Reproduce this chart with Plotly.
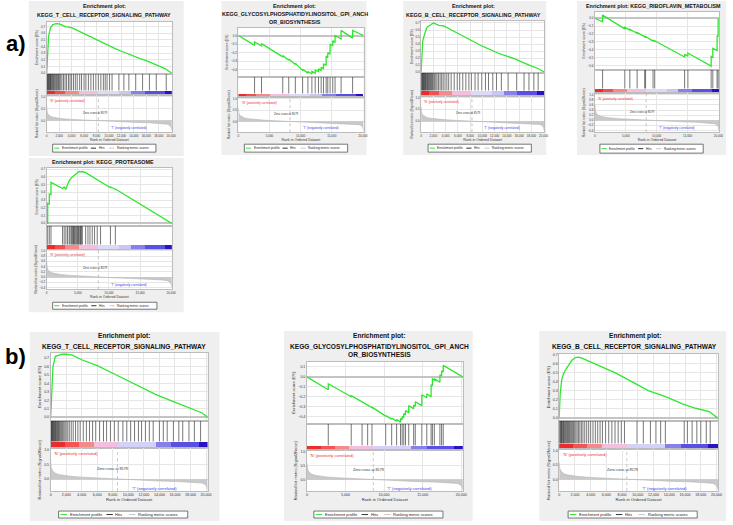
import plotly.graph_objects as go

W, H = 733, 525
FONT = "Liberation Sans"

# ---------------- data ----------------
N_A = 20100
N_B = 20200
ZERO_CROSS_A = 8300
ZERO_CROSS_B = 8600
ZERO_TEXT = "Zero cross at 8579"

# ranked list metric (shared per dataset)
metric_rank_a = [0, 80, 250, 600, 1000, 1600, 2500, 4000, 6000, 8300, 11000, 14000, 16500, 18500, 19400, 19800, 20000, 20100]
metric_val_a = [0.62, 0.36, 0.26, 0.19, 0.15, 0.12, 0.09, 0.06, 0.03, 0.0, -0.03, -0.06, -0.08, -0.11, -0.14, -0.19, -0.27, -0.4]
metric_rank_b = [0, 80, 250, 600, 1000, 1600, 2500, 4000, 6000, 8600, 11000, 14000, 16500, 18500, 19500, 19900, 20100, 20200]
metric_val_b = [0.6, 0.38, 0.28, 0.2, 0.16, 0.13, 0.1, 0.07, 0.04, 0.0, -0.03, -0.06, -0.08, -0.1, -0.13, -0.18, -0.25, -0.35]

# colour strip segments
strip_edges_a = [0, 1300, 2900, 5100, 8200, 11600, 13500, 15700, 18900, 20100]
strip_colors_a = ["#ee2b2b", "#f25050", "#f48a8a", "#f4bede", "#dcdaf6", "#c9c6f3", "#8680ec", "#5a4fe3", "#2a12c4"]
strip_edges_b = [0, 1800, 3600, 5500, 8600, 13500, 15500, 19000, 20200]
strip_colors_b = ["#ee2b2b", "#f25555", "#f48a8a", "#f4bede", "#d3d1f5", "#8680ec", "#5a4fe3", "#2a12c4"]

# T cell receptor signaling (a)
tcell_a_es_x = [0, 100, 300, 600, 1000, 1500, 2000, 2500, 3000, 4000, 5000, 6000, 7000, 8000, 9000, 10000,
                11000, 12000, 13000, 14000, 15000, 16000, 17000, 18000, 19000, 20100]
tcell_a_es_y = [0, 0.3, 0.55, 0.68, 0.73, 0.745, 0.74, 0.72, 0.70, 0.685, 0.64, 0.59, 0.54, 0.495, 0.45, 0.41,
                0.37, 0.33, 0.29, 0.255, 0.22, 0.19, 0.15, 0.11, 0.07, 0.0]
tcell_a_hits = [60, 150, 240, 330, 420, 520, 610, 700, 820, 950, 1080, 1200, 1330, 1470, 1600, 1760, 1900, 2050,
                2250, 2450, 2700, 2950, 3200, 3500, 3750, 4000, 4300, 4600, 4900, 5300, 5600, 6000, 6300, 6700,
                7100, 7500, 7900, 8300, 8700, 9100, 9400, 9700, 10100, 10500, 11600, 12400, 13200, 14300, 15400,
                16500, 17600, 19200]

# GPI anchor biosynthesis (a)
gpi_a_es_x = [0, 2600, 2600, 3720, 3720, 7130, 7130, 8090, 8090, 9150, 9150, 10320, 10320, 11170, 11170, 11810,
              11810, 12340, 12340, 12870, 12870, 13300, 13300, 13670, 13670, 14100, 14100, 14360, 14360, 14730,
              14730, 15160, 15160, 15530, 15530, 16500, 16500, 18350, 18350, 20100]
gpi_a_es_y = [0, -0.115, -0.075, -0.12, -0.095, -0.25, -0.235, -0.29, -0.275, -0.34, -0.325, -0.41, -0.395, -0.44,
              -0.42, -0.45, -0.42, -0.44, -0.405, -0.42, -0.39, -0.41, -0.37, -0.39, -0.33, -0.35, -0.24, -0.26,
              -0.2, -0.22, -0.1, -0.12, -0.06, -0.08, 0.0, -0.04, 0.06, -0.03, 0.06, 0.0]
gpi_a_hits = [2600, 3720, 7130, 8090, 9150, 10320, 11170, 11810, 12340, 12870, 13300, 13670, 14100, 14360, 14730,
              15160, 15530, 16500, 18350]

# B cell receptor signaling (a)
bcell_a_es_x = [0, 260, 530, 950, 1580, 2000, 2900, 3700, 5500, 7400, 10000, 12600, 15300, 17900, 19000, 20100]
bcell_a_es_y = [0, 0.44, 0.53, 0.64, 0.675, 0.70, 0.667, 0.66, 0.575, 0.486, 0.37, 0.27, 0.19, 0.09, 0.057, 0.0]
bcell_a_hits = [80, 160, 250, 340, 430, 520, 620, 720, 830, 950, 1060, 1180, 1300, 1420, 1550, 1700, 1850, 2000,
                2200, 2400, 2600, 2850, 3100, 3350, 3600, 3900, 4200, 4500, 4900, 5400, 5900, 6300, 6800, 7300,
                7800, 8200, 8800, 9300, 9900, 10500, 11000, 11700, 12300, 13100, 14200, 15600, 16800, 17600,
                18400, 19100]

# Riboflavin metabolism (a)
ribo_es_x = [0, 1240, 1240, 4840, 4840, 5650, 5650, 6830, 6830, 8060, 8060, 9410, 9410, 9680, 9680, 14520, 14520,
             15050, 15050, 18820, 18820, 19090, 19090, 19780, 19780, 19950, 19950]
ribo_es_y = [0, -0.045, 0.04, -0.135, -0.115, -0.15, -0.14, -0.19, -0.18, -0.235, -0.225, -0.29, -0.28, -0.29,
             -0.285, -0.49, -0.455, -0.48, -0.44, -0.605, -0.48, -0.49, -0.38, -0.41, -0.22, -0.23, 0.0]
ribo_hits = [1240, 4840, 5650, 6830, 8060, 8200, 9410, 9680, 14520, 15050, 18820, 19090, 19780, 19950]

# Proteasome (a)
prot_es_x = [0, 160, 160, 420, 420, 690, 690, 2550, 2810, 3080, 3340, 3610, 3980, 4300, 4670, 4930, 5200, 5460,
             5730, 6260, 6950, 7690, 8650, 10240, 10240, 11030, 11030, 20100]
prot_es_y = [0, 0.0, 0.26, 0.25, 0.38, 0.37, 0.53, 0.45, 0.47, 0.44, 0.50, 0.55, 0.59, 0.61, 0.64, 0.65, 0.67,
             0.665, 0.67, 0.655, 0.62, 0.58, 0.53, 0.46, 0.47, 0.44, 0.445, 0.0]
prot_hits = [160, 420, 690, 2550, 2810, 3080, 3340, 3610, 3770, 3980, 4140, 4300, 4400, 4510, 4670, 4830, 4930,
             5090, 5200, 5360, 5460, 5570, 5730, 6260, 6630, 6950, 7320, 7690, 8120, 8650, 10240, 11030]

# T cell receptor signaling (b)
tcell_b_es_x = [0, 150, 300, 600, 1000, 1500, 2000, 2800, 4000, 6000, 8000, 10000, 12000, 13500, 15000, 16500,
                18000, 19500, 20200]
tcell_b_es_y = [0, 0.3, 0.6, 0.72, 0.735, 0.745, 0.745, 0.735, 0.68, 0.61, 0.52, 0.43, 0.33, 0.27, 0.215, 0.16,
                0.11, 0.05, 0.0]
tcell_b_hits = [40, 110, 180, 250, 320, 390, 470, 550, 630, 720, 810, 900, 1000, 1100, 1200, 1320, 1440, 1560,
                1700, 1850, 2000, 2200, 2400, 2650, 2900, 3200, 3500, 3800, 4200, 4600, 5000, 5400, 5800, 6300,
                6800, 7200, 7700, 8200, 8700, 9300, 9800, 10300, 10800, 11300, 11700, 12200, 12700, 13200,
                14000, 14500, 15000, 15800, 16500, 17000, 17800, 18500, 19300]

# GPI anchor biosynthesis (b)
gpi_b_es_x = [0, 2770, 2770, 5740, 5740, 7150, 7150, 7870, 7870, 8430, 8430, 10210, 10210, 10980, 10980, 11620,
              11620, 12130, 12130, 12340, 12340, 12550, 12550, 12770, 12770, 13190, 13190, 13830, 13830, 14040,
              14040, 14890, 14890, 15530, 15530, 16090, 16090, 16260, 16260, 16510, 16510, 17230, 17230, 17450,
              17450, 17660, 17660, 20200]
gpi_b_es_y = [0, -0.13, -0.07, -0.2, -0.19, -0.255, -0.25, -0.285, -0.28, -0.31, -0.305, -0.395, -0.39, -0.425,
              -0.415, -0.445, -0.43, -0.455, -0.42, -0.43, -0.4, -0.41, -0.37, -0.38, -0.34, -0.36, -0.29, -0.32,
              -0.285, -0.295, -0.25, -0.29, -0.18, -0.21, -0.17, -0.2, -0.08, -0.09, -0.02, -0.03, -0.02, -0.055,
              0.02, 0.01, 0.06, 0.05, 0.115, 0.0]
gpi_b_hits = [2770, 5740, 7150, 7870, 8430, 10210, 10980, 11620, 12130, 12340, 12550, 12770, 13190, 13830, 14040,
              14890, 15530, 16090, 16260, 16510, 17230, 17450, 17660]

# B cell receptor signaling (b)
bcell_b_es_x = [0, 130, 340, 550, 850, 1280, 1620, 2040, 2470, 2890, 5020, 7150, 9280, 11400, 13530, 15660, 17360,
                19060, 20130]
bcell_b_es_y = [0, 0.27, 0.43, 0.49, 0.54, 0.6, 0.64, 0.67, 0.675, 0.663, 0.58, 0.5, 0.4, 0.3, 0.237, 0.155,
                0.107, 0.07, 0.0]
bcell_b_hits = [60, 140, 220, 300, 380, 470, 560, 650, 750, 850, 960, 1070, 1180, 1300, 1420, 1550, 1680, 1820,
                1970, 2120, 2280, 2450, 2630, 2820, 3020, 3250, 3500, 3750, 4000, 4300, 4600, 4900, 5200, 5500,
                5900, 6300, 6700, 7100, 7500, 7900, 8300, 9900, 10700, 11600, 12300, 12900, 13500, 15900, 16300,
                16900, 17500, 18000, 18700, 19200]

# ---------------- panels ----------------
# geometry in pixels: bg box, plot left/right, es top, hits top, strip top, ranked top, ranked bottom
panels = [
    dict(title=["Enrichment plot:", "KEGG_T_CELL_RECEPTOR_SIGNALING_PATHWAY"], title_y=[5, 14], cx=104,
         es=(tcell_a_es_x, tcell_a_es_y), hits=tcell_a_hits, es_range=[-0.005, 0.77], grp="a", dtick=2000,
         rdtick=0.5, bg=(28, 0, 184, 156), px=(46, 172), py=(21, 73, 90, 95, 132), leg=(52, 156, 144, 152)),
    dict(title=["Enrichment plot:", "KEGG_GLYCOSYLPHOSPHATIDYLINOSITOL_GPI_ANCH", "OR_BIOSYNTHESIS"],
         title_y=[5, 13.5, 21], cx=296, es=(gpi_a_es_x, gpi_a_es_y), hits=gpi_a_hits, es_range=[-0.48, 0.09],
         grp="a", dtick=5000, rdtick=0.5, bg=(222, 0, 368, 155), px=(239, 365), py=(27, 76, 93, 97, 132),
         leg=(245, 349, 144, 152)),
    dict(title=["Enrichment plot:", "KEGG_B_CELL_RECEPTOR_SIGNALING_PATHWAY"], title_y=[5, 14], cx=476,
         es=(bcell_a_es_x, bcell_a_es_y), hits=bcell_a_hits, es_range=[-0.005, 0.73], grp="a", dtick=2000,
         rdtick=0.5, bg=(405, 0, 549, 155), px=(423, 547), py=(20, 72, 90, 96, 132), leg=(430, 534, 144, 152)),
    dict(title=["Enrichment plot: KEGG_RIBOFLAVIN_METABOLISM"], title_y=[5], cx=657,
         es=(ribo_es_x, ribo_es_y), hits=ribo_hits, es_range=[-0.65, 0.08], grp="a", dtick=5000,
         rdtick=0.2, bg=(580, 0, 730, 155), px=(598, 723), py=(11, 69, 88, 93, 132), leg=(603, 707, 144, 153)),
    dict(title=["Enrichment plot: KEGG_PROTEASOME"], title_y=[162], cx=103,
         es=(prot_es_x, prot_es_y), hits=prot_hits, es_range=[-0.03, 0.715], grp="a", dtick=5000,
         rdtick=0.2, bg=(28, 158, 184, 313), px=(46, 172), py=(168, 226, 245, 250, 290), leg=(52, 157, 303, 310)),
    dict(title=["Enrichment plot:", "KEGG_T_CELL_RECEPTOR_SIGNALING_PATHWAY"], title_y=[337, 347], cx=124,
         es=(tcell_b_es_x, tcell_b_es_y), hits=tcell_b_hits, es_range=[-0.04, 0.76], grp="b", dtick=2000,
         rdtick=0.5, bg=(29, 333, 220, 523), px=(50, 208), py=(354, 422, 443, 450, 493), leg=(58, 188, 513, 520)),
    dict(title=["Enrichment plot:", "KEGG_GLYCOSYLPHOSPHATIDYLINOSITOL_GPI_ANCH", "OR_BIOSYNTHESIS"],
         title_y=[337, 347, 356], cx=381, es=(gpi_b_es_x, gpi_b_es_y), hits=gpi_b_hits, es_range=[-0.47, 0.15],
         grp="b", dtick=5000, rdtick=0.5, bg=(285, 332, 475, 523), px=(308, 465), py=(363, 425, 447, 452, 493),
         leg=(315, 445, 513, 520)),
    dict(title=["Enrichment plot:", "KEGG_B_CELL_RECEPTOR_SIGNALING_PATHWAY"], title_y=[337, 347], cx=638,
         es=(bcell_b_es_x, bcell_b_es_y), hits=bcell_b_hits, es_range=[-0.03, 0.71], grp="b", dtick=2000,
         rdtick=0.5, bg=(542, 332, 730, 523), px=(562, 722), py=(355, 422, 445, 451, 493), leg=(571, 701, 513, 520)),
]

groups = {
    "a": dict(n=N_A, zc=ZERO_CROSS_A, mr=metric_rank_a, mv=metric_val_a, se=strip_edges_a, sc=strip_colors_a,
              rrange=[-0.47, 1.05], tick=3.0, axt=3.5, title=5.4, leg=3.2),
    "b": dict(n=N_B, zc=ZERO_CROSS_B, mr=metric_rank_b, mv=metric_val_b, se=strip_edges_b, sc=strip_colors_b,
              rrange=[-0.4, 1.03], tick=3.6, axt=4.2, title=6.6, leg=4.0),
}


def fx(v):
    return v / W


def fy(v):
    return 1 - v / H


def ax_id(k):
    return ("" if k == 1 else str(k))


fig = go.Figure()
layout = {}
shapes = []
annotations = []
GRID = "#e6e6e6"
BORDER = "#bcbcbc"

for i, p in enumerate(panels):
    g = groups[p["grp"]]
    n = g["n"]
    k_es, k_hit, k_rk = 3 * i + 1, 3 * i + 2, 3 * i + 3
    x0, x1 = p["px"]
    es_top, hit_top, strip_top, rk_top, rk_bot = p["py"]
    strip_h = (rk_top - strip_top) / (rk_top - hit_top)

    # backgrounds
    bx0, by0, bx1, by1 = p["bg"]
    shapes.append(dict(type="rect", xref="paper", yref="paper", x0=fx(bx0), x1=fx(bx1), y0=fy(by1), y1=fy(by0),
                       fillcolor="#efefef", line_width=0, layer="below"))
    shapes.append(dict(type="rect", xref="paper", yref="paper", x0=fx(x0), x1=fx(x1), y0=fy(rk_bot), y1=fy(es_top),
                       fillcolor="white", line_width=0, layer="below"))

    # enrichment score
    fig.add_trace(go.Scatter(x=p["es"][0], y=p["es"][1], mode="lines", line=dict(color="#2fe62f", width=1.3),
                             xaxis="x" + ax_id(k_es), yaxis="y" + ax_id(k_es), hoverinfo="skip"))
    # hits
    hx, hy = [], []
    for h in p["hits"]:
        hx += [h, h, None]
        hy += [strip_h, 1, None]
    fig.add_trace(go.Scatter(x=hx, y=hy, mode="lines", line=dict(color="rgba(20,20,20,0.72)", width=0.8),
                             xaxis="x" + ax_id(k_hit), yaxis="y" + ax_id(k_hit), hoverinfo="skip"))
    # colour strip
    edges = g["se"]
    fig.add_trace(go.Bar(x=[(a + b) / 2 for a, b in zip(edges[:-1], edges[1:])],
                         y=[strip_h] * (len(edges) - 1),
                         width=[b - a for a, b in zip(edges[:-1], edges[1:])],
                         marker=dict(color=g["sc"], line_width=0),
                         xaxis="x" + ax_id(k_hit), yaxis="y" + ax_id(k_hit), hoverinfo="skip"))
    # ranked list metric
    fig.add_trace(go.Scatter(x=g["mr"], y=g["mv"], mode="lines", fill="tozeroy", fillcolor="#c9c9c9",
                             line=dict(color="#b5b5b5", width=0.6),
                             xaxis="x" + ax_id(k_rk), yaxis="y" + ax_id(k_rk), hoverinfo="skip"))
    fig.add_trace(go.Scatter(x=[g["zc"], g["zc"]], y=g["rrange"], mode="lines",
                             line=dict(color="#a0a0a0", width=0.6, dash="dot"),
                             xaxis="x" + ax_id(k_rk), yaxis="y" + ax_id(k_rk), hoverinfo="skip"))

    common_x = dict(range=[0, n], domain=[fx(x0), fx(x1)], showline=True, mirror=True, linecolor=BORDER,
                    linewidth=0.6, zeroline=False, ticks="", dtick=p["dtick"], tick0=0)
    layout["xaxis" + ax_id(k_es)] = dict(common_x, anchor="y" + ax_id(k_es), showticklabels=False,
                                         showgrid=True, gridcolor=GRID, gridwidth=0.5)
    layout["yaxis" + ax_id(k_es)] = dict(range=p["es_range"], domain=[fy(hit_top), fy(es_top)],
                                         anchor="x" + ax_id(k_es), dtick=0.1, tick0=0, tickformat=".1f",
                                         tickfont=dict(size=g["tick"], color="#333"), showline=True, mirror=True,
                                         linecolor=BORDER, linewidth=0.6, gridcolor=GRID, gridwidth=0.5,
                                         zeroline=True, zerolinecolor="#c4c4c4", zerolinewidth=1.5, ticks="",
                                         title=dict(text="Enrichment score (ES)", standoff=2,
                                                    font=dict(size=g["axt"], color="#333")))
    layout["xaxis" + ax_id(k_hit)] = dict(common_x, anchor="y" + ax_id(k_hit), showticklabels=False,
                                          showgrid=False)
    layout["yaxis" + ax_id(k_hit)] = dict(range=[0, 1], domain=[fy(rk_top), fy(hit_top)],
                                          anchor="x" + ax_id(k_hit), showticklabels=False, showgrid=False,
                                          zeroline=False, showline=True, mirror=True, linecolor=BORDER,
                                          linewidth=0.6, ticks="")
    layout["xaxis" + ax_id(k_rk)] = dict(common_x, anchor="y" + ax_id(k_rk), showticklabels=True,
                                         tickformat=",d", tickangle=0,
                                         tickfont=dict(size=g["tick"], color="#333"),
                                         showgrid=True, gridcolor=GRID, gridwidth=0.5,
                                         title=dict(text="Rank in Ordered Dataset", standoff=1,
                                                    font=dict(size=g["axt"], color="#333")))
    layout["yaxis" + ax_id(k_rk)] = dict(range=g["rrange"], domain=[fy(rk_bot), fy(rk_top)],
                                         anchor="x" + ax_id(k_rk), dtick=p["rdtick"], tick0=0, tickformat=".1f",
                                         tickfont=dict(size=g["tick"], color="#333"), showline=True, mirror=True,
                                         linecolor=BORDER, linewidth=0.6, gridcolor=GRID, gridwidth=0.5,
                                         zeroline=True, zerolinecolor="#d0d0d0", zerolinewidth=0.8, ticks="",
                                         title=dict(text="Ranked list metric (Signal2Noise)", standoff=2,
                                                    font=dict(size=g["axt"] - 0.2, color="#333")))

    # labels inside the ranked panel
    xr, yr = "x" + ax_id(k_rk), "y" + ax_id(k_rk)
    annotations.append(dict(x=n * 0.01, y=1.0, xref=xr, yref=yr, xanchor="left", yanchor="top",
                            text="'N' (positively correlated)", showarrow=False,
                            font=dict(size=g["leg"], color="#e83030")))
    annotations.append(dict(x=g["zc"] - n * 0.03, y=0.33, xref=xr, yref=yr, xanchor="center", yanchor="middle",
                            text=ZERO_TEXT, showarrow=False, font=dict(size=g["leg"] - 0.3, color="#333")))
    annotations.append(dict(x=n * 0.66, y=-0.3, xref=xr, yref=yr, xanchor="center", yanchor="middle",
                            text="'T' (negatively correlated)", showarrow=False,
                            font=dict(size=g["leg"], color="#3a3ae8")))

    # title
    for line, ly in zip(p["title"], p["title_y"]):
        annotations.append(dict(x=fx(p["cx"]), y=fy(ly), xref="paper", yref="paper", xanchor="center",
                                yanchor="middle", text="<b>" + line + "</b>", showarrow=False,
                                font=dict(size=g["title"], color="#111")))

    # legend box
    lx0, lx1, ly0, ly1 = p["leg"]
    lw = lx1 - lx0
    lyc = fy((ly0 + ly1) / 2)
    shapes.append(dict(type="rect", xref="paper", yref="paper", x0=fx(lx0), x1=fx(lx1), y0=fy(ly1), y1=fy(ly0),
                       fillcolor="white", line=dict(color="#555", width=0.8)))
    items = [("Enrichment profile", "#2fe62f", 0.015), ("Hits", "#333333", 0.37), ("Ranking metric scores", "#c8c8c8", 0.545)]
    for label, col, off in items:
        shapes.append(dict(type="line", xref="paper", yref="paper", x0=fx(lx0 + off * lw), x1=fx(lx0 + (off + 0.05) * lw),
                           y0=lyc, y1=lyc, line=dict(color=col, width=1)))
        annotations.append(dict(x=fx(lx0 + (off + 0.055) * lw), y=lyc, xref="paper", yref="paper", xanchor="left",
                                yanchor="middle", text=label, showarrow=False,
                                font=dict(size=g["leg"], color="#222")))

annotations.append(dict(x=fx(15), y=fy(43), xref="paper", yref="paper", xanchor="center", yanchor="middle",
                        text="<b>a)</b>", showarrow=False, font=dict(size=22, color="black")))
annotations.append(dict(x=fx(15), y=fy(358), xref="paper", yref="paper", xanchor="center", yanchor="middle",
                        text="<b>b)</b>", showarrow=False, font=dict(size=22, color="black")))

fig.update_layout(
    width=W,
    height=H,
    autosize=False,
    margin=dict(l=0, r=0, t=0, b=0),
    paper_bgcolor="white",
    plot_bgcolor="rgba(0,0,0,0)",
    font_family=FONT,
    showlegend=False,
    bargap=0,
    shapes=shapes,
    annotations=annotations,
    **layout,
)

# the page body has a default margin; drop it so the figure sits at the window origin
fig.write_html("out.html", config={"displayModeBar": False},
               post_script="document.body.style.margin='0';document.body.style.overflow='hidden';")
